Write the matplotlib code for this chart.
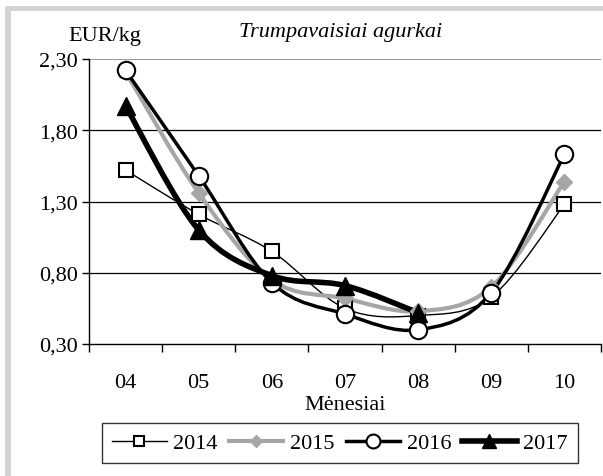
import numpy as np
import matplotlib
matplotlib.use('Agg')
import matplotlib.pyplot as plt
from matplotlib.path import Path
from matplotlib.patches import PathPatch, Rectangle
from matplotlib.lines import Line2D
from matplotlib.ticker import FuncFormatter

plt.rcParams['font.family'] = ['Liberation Serif', 'DejaVu Serif']

months = ['04', '05', '06', '07', '08', '09', '10']
y2014 = [1.52, 1.21, 0.95, 0.55, 0.50, 0.63, 1.28]
y2015 = [2.21, 1.36, 0.75, 0.62, 0.53, 0.70, 1.44]
y2016 = [2.22, 1.48, 0.73, 0.51, 0.40, 0.66, 1.63]
y2017 = [1.97, 1.10, 0.78, 0.71, 0.52]


def smooth_path(xs, ys):
    # Excel-like smoothing: Catmull-Rom turned into cubic Bezier segments
    pts = np.column_stack([xs, ys]).astype(float)
    verts = [pts[0]]
    codes = [Path.MOVETO]
    n = len(pts)
    for i in range(n - 1):
        p0 = pts[i - 1] if i > 0 else pts[i]
        p1 = pts[i]
        p2 = pts[i + 1]
        p3 = pts[i + 2] if i + 2 < n else pts[i + 1]
        c1 = p1 + (p2 - p0) / 6
        c2 = p2 - (p3 - p1) / 6
        verts += [c1, c2, p2]
        codes += [Path.CURVE4] * 3
    return Path(verts, codes)


series = [
    (y2014, '2014', dict(color='black', lw=1.0), dict(marker='s', ms=9.5, mfc='white', mec='black', mew=1.5)),
    (y2015, '2015', dict(color='#a6a6a6', lw=3.0), dict(marker='D', ms=8, mfc='#a6a6a6', mec='#a6a6a6', mew=1)),
    (y2016, '2016', dict(color='black', lw=2.5), dict(marker='o', ms=12.5, mfc='white', mec='black', mew=1.5)),
    (y2017, '2017', dict(color='black', lw=4.0), dict(marker='^', ms=13, mfc='black', mec='black', mew=1)),
]

fig = plt.figure(figsize=(6.03, 4.77), dpi=100)
fig.patch.set_facecolor('white')

# gray frame bands on top and left
fig.add_artist(Rectangle((5 / 603, 1 - 12 / 477), 598 / 603, 5 / 477,
                         transform=fig.transFigure, color='#d3d3d3', lw=0))
fig.add_artist(Rectangle((5 / 603, 0), 6 / 603, 1 - 7 / 477,
                         transform=fig.transFigure, color='#d3d3d3', lw=0))

ax = fig.add_axes([89 / 603, 1 - 345 / 477, 512 / 603, 285 / 477])
ax.set_xlim(-0.5, 6.5)
ax.set_ylim(0.30, 2.30)
ax.set_yticks([0.30, 0.80, 1.30, 1.80, 2.30])
ax.yaxis.set_major_formatter(FuncFormatter(lambda v, p: f'{v:.2f}'.replace('.', ',')))
ax.set_xticks(range(len(months)))
ax.set_xticklabels(months)
ax.set_xticks(np.arange(-0.5, 6.6, 1), minor=True)
ax.tick_params(axis='x', which='major', length=0, pad=21, labelsize=16)
ax.tick_params(axis='x', which='minor', length=6, width=1, direction='out')
ax.tick_params(axis='y', length=5, width=1, direction='out', labelsize=16, pad=3)

for v in [0.80, 1.30, 1.80]:
    ax.axhline(v, color='black', lw=0.9, zorder=1)
ax.axhline(2.30, color='#999999', lw=1.5, zorder=1)

for s in ['top', 'right']:
    ax.spines[s].set_visible(False)
ax.spines['left'].set_linewidth(1)
ax.spines['bottom'].set_linewidth(1)

handles = []
for ys, lab, lstyle, mstyle in series:
    xs = np.arange(len(ys))
    patch = PathPatch(smooth_path(xs, ys), fill=False, edgecolor=lstyle['color'],
                      lw=lstyle['lw'], capstyle='round', joinstyle='round', zorder=3)
    ax.add_patch(patch)
    ax.plot(xs, ys, ls='none', zorder=4, **mstyle)
    handles.append(Line2D([], [], color=lstyle['color'], lw=lstyle['lw'], label=lab,
                          **{**mstyle, 'ms': mstyle['ms'] * 0.8}))

fig.text(105 / 603, 1 - 36 / 477, 'EUR/kg', ha='center', va='center', fontsize=16)
fig.text(341 / 603, 1 - 33 / 477, 'Trumpavaisiai agurkai', ha='center', va='center',
         fontsize=16, style='italic')
fig.text(345 / 603, 1 - 406 / 477, 'Mėnesiai', ha='center', va='center', fontsize=16)

leg = fig.legend(handles=handles, loc='center', ncol=4,
                 bbox_to_anchor=(340 / 603, 1 - 444 / 477), frameon=True,
                 fancybox=False, edgecolor='black', fontsize=16,
                 handlelength=2.45, columnspacing=0.5, handletextpad=0.3,
                 borderpad=0.45, borderaxespad=0)
leg.get_frame().set_linewidth(1)

fig.savefig('out.png', dpi=100)
